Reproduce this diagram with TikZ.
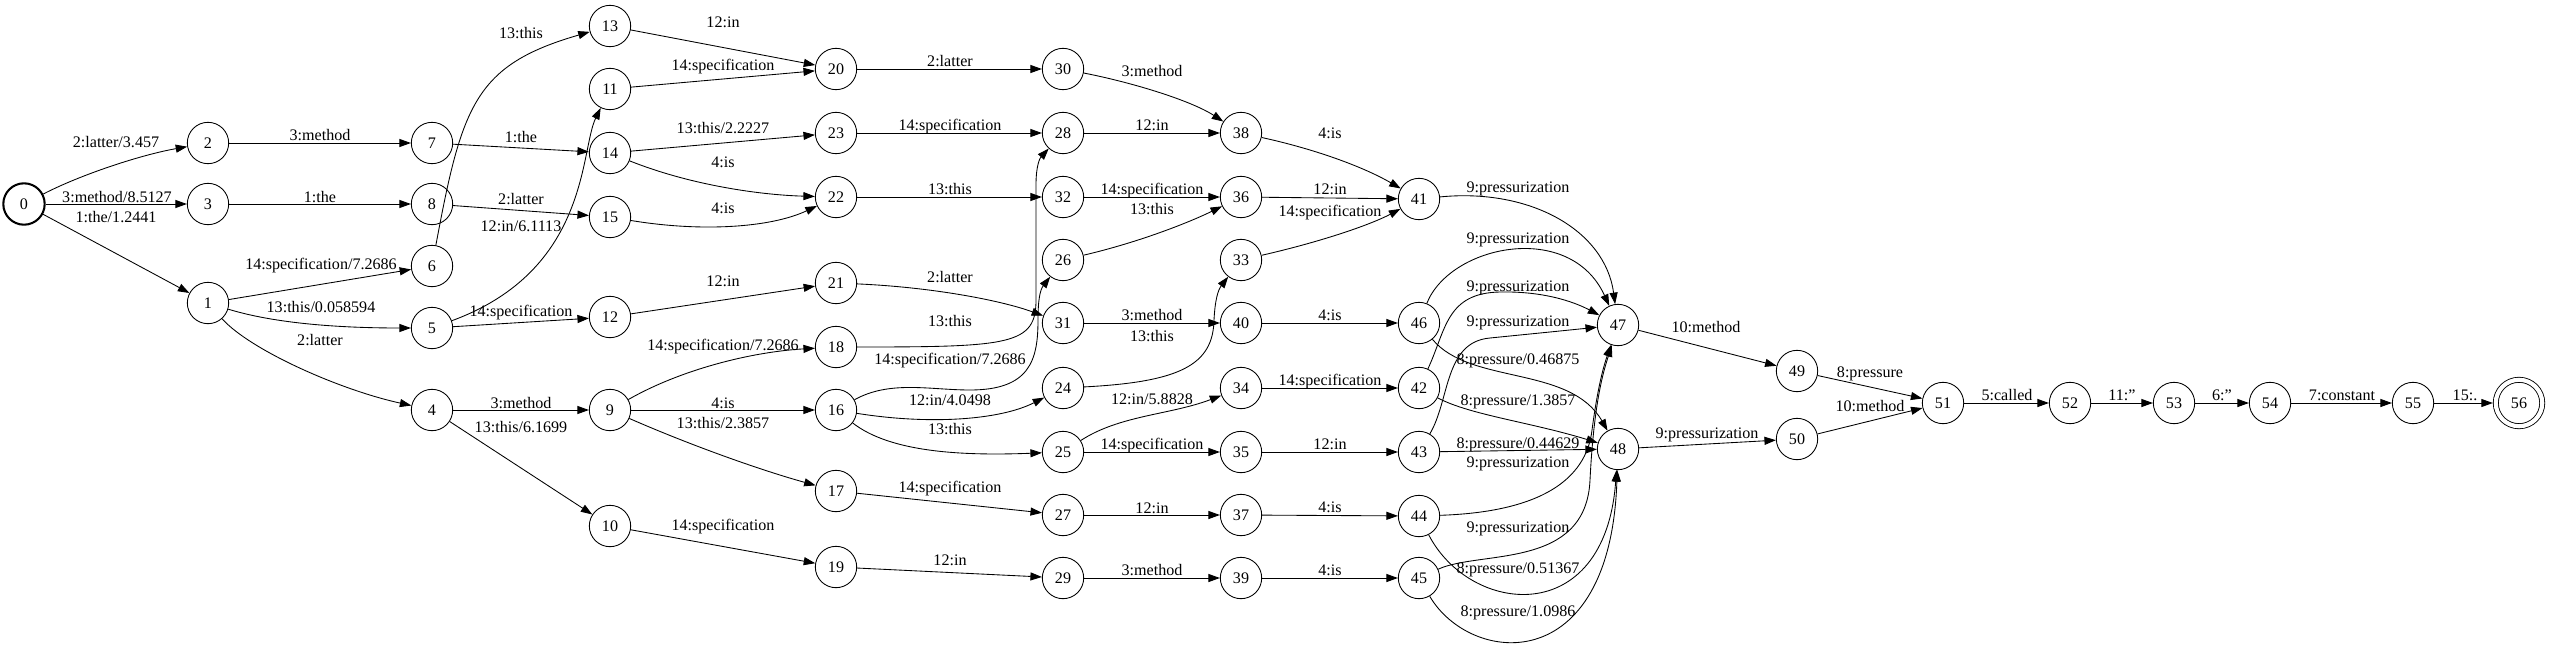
\documentclass[tikz,border=0pt]{standalone}
\usepackage{fontspec}
\setmainfont{Liberation Serif}
\usetikzlibrary{arrows.meta}

\begin{document}
\begin{tikzpicture}[x=0.87pt,y=-0.87pt,
    statenode/.style={circle,draw,line width=0.75pt,minimum size=36pt,inner sep=0pt},
    initstate/.style={statenode,line width=1.8pt},
    finalstate/.style={statenode,double,double distance=3.6pt,minimum size=40.4pt,outer sep=2.6pt},
    fstarc/.style={line width=0.75pt,-{Triangle[length=10pt,width=7pt]}},
    arclabel/.style={inner sep=0pt,text height=10pt,text depth=0pt}]
                \useasboundingbox (0,0) rectangle (2550,645);
                {\fontsize{14pt}{16pt}\selectfont

                % Drawing states, rank by rank
                \node [initstate] (s0) at (24,204) {0};%
                \node [statenode] (s2) at (208,143) {2};%
                \node [statenode] (s3) at (208,204) {3};%
                \node [statenode] (s1) at (208,303) {1};%
                \node [statenode] (s7) at (432,143) {7};%
                \node [statenode] (s8) at (432,204) {8};%
                \node [statenode] (s6) at (432,266) {6};%
                \node [statenode] (s5) at (432,328) {5};%
                \node [statenode] (s4) at (432,410) {4};%
                \node [statenode] (s13) at (610,26) {13};%
                \node [statenode] (s11) at (610,89) {11};%
                \node [statenode] (s14) at (610,153) {14};%
                \node [statenode] (s15) at (610,217) {15};%
                \node [statenode] (s12) at (610,317) {12};%
                \node [statenode] (s9) at (610,410) {9};%
                \node [statenode] (s10) at (610,526) {10};%
                \node [statenode] (s20) at (836,69) {20};%
                \node [statenode] (s23) at (836,133) {23};%
                \node [statenode] (s22) at (836,197) {22};%
                \node [statenode] (s21) at (836,283) {21};%
                \node [statenode] (s18) at (836,347) {18};%
                \node [statenode] (s16) at (836,410) {16};%
                \node [statenode] (s17) at (836,491) {17};%
                \node [statenode] (s19) at (836,567) {19};%
                \node [statenode] (s30) at (1063,69) {30};%
                \node [statenode] (s28) at (1063,133) {28};%
                \node [statenode] (s32) at (1063,197) {32};%
                \node [statenode] (s26) at (1063,260) {26};%
                \node [statenode] (s31) at (1063,323) {31};%
                \node [statenode] (s24) at (1063,388) {24};%
                \node [statenode] (s25) at (1063,452) {25};%
                \node [statenode] (s27) at (1063,515) {27};%
                \node [statenode] (s29) at (1063,578) {29};%
                \node [statenode] (s38) at (1241,133) {38};%
                \node [statenode] (s36) at (1241,197) {36};%
                \node [statenode] (s33) at (1241,260) {33};%
                \node [statenode] (s40) at (1241,323) {40};%
                \node [statenode] (s34) at (1241,388) {34};%
                \node [statenode] (s35) at (1241,452) {35};%
                \node [statenode] (s37) at (1241,515) {37};%
                \node [statenode] (s39) at (1241,578) {39};%
                \node [statenode] (s41) at (1419,199) {41};%
                \node [statenode] (s46) at (1419,323) {46};%
                \node [statenode] (s42) at (1419,388) {42};%
                \node [statenode] (s43) at (1419,452) {43};%
                \node [statenode] (s44) at (1419,516) {44};%
                \node [statenode] (s45) at (1419,578) {45};%
                \node [statenode] (s47) at (1618,325) {47};%
                \node [statenode] (s48) at (1618,449) {48};%
                \node [statenode] (s49) at (1797,371) {49};%
                \node [statenode] (s50) at (1797,439) {50};%
                \node [statenode] (s51) at (1943,403) {51};%
                \node [statenode] (s52) at (2070,403) {52};%
                \node [statenode] (s53) at (2174,403) {53};%
                \node [statenode] (s54) at (2270,403) {54};%
                \node [statenode] (s55) at (2413,403) {55};%
                \node [finalstate] (s56) at (2519,403) {56};%

                % Drawing arcs out of 0, 1, 2, 3
                \draw [fstarc] (s0) .. controls (80,175) and (140,155) .. (s2);%
                \draw [fstarc] (s0) -- (s3);%
                \draw [fstarc] (s0) -- (s1);%
                \draw [fstarc] (s2) -- (s7);%
                \draw [fstarc] (s3) -- (s8);%
                \draw [fstarc] (s1) -- (s6);%
                \draw [fstarc] (s1) .. controls (280,325) and (350,328) .. (s5);%
                \draw [fstarc] (s1) .. controls (250,350) and (340,390) .. (s4);%
                \node [arclabel] (l0x2) at (116,142) {2:latter/3.457};%
                \node [arclabel] (l0x3) at (117,197) {3:method/8.5127};%
                \node [arclabel] (l0x1) at (116,217) {1:the/1.2441};%
                \node [arclabel] (l2x7) at (320,135) {3:method};%
                \node [arclabel] (l3x8) at (320,197) {1:the};%
                \node [arclabel] (l1x6) at (321,264) {14:specification/7.2686};%
                \node [arclabel] (l1x5) at (321,307) {13:this/0.058594};%
                \node [arclabel] (l1x4) at (320,340) {2:latter};%

                % Drawing arcs out of 4 to 8
                \draw [fstarc] (s6) .. controls (462,105) and (475,65) .. (s13);%
                \draw [fstarc] (s5) .. controls (590,270) and (580,150) .. (s11);%
                \draw [fstarc] (s7) -- (s14);%
                \draw [fstarc] (s8) -- (s15);%
                \draw [fstarc] (s5) -- (s12);%
                \draw [fstarc] (s4) -- (s9);%
                \draw [fstarc] (s4) -- (s10);%
                \node [arclabel] (l6x13) at (521,33) {13:this};%
                \node [arclabel] (l7x14) at (521,137) {1:the};%
                \node [arclabel] (l8x15) at (521,199) {2:latter};%
                \node [arclabel] (l5x11) at (521,226) {12:in/6.1113};%
                \node [arclabel] (l5x12) at (521,311) {14:specification};%
                \node [arclabel] (l4x9) at (521,403) {3:method};%
                \node [arclabel] (l4x10) at (521,427) {13:this/6.1699};%

                % Drawing arcs out of 9 to 15
                \draw [fstarc] (s13) -- (s20);%
                \draw [fstarc] (s11) -- (s20);%
                \draw [fstarc] (s14) -- (s23);%
                \draw [fstarc] (s14) .. controls (690,185) and (760,195) .. (s22);%
                \draw [fstarc] (s15) .. controls (700,232) and (770,228) .. (s22);%
                \draw [fstarc] (s12) -- (s21);%
                \draw [fstarc] (s9) .. controls (680,370) and (750,352) .. (s18);%
                \draw [fstarc] (s9) -- (s16);%
                \draw [fstarc] (s9) .. controls (690,445) and (760,470) .. (s17);%
                \draw [fstarc] (s10) -- (s19);%
                \node [arclabel] (l13x20) at (723,22) {12:in};%
                \node [arclabel] (l11x20) at (723,65) {14:specification};%
                \node [arclabel] (l14x23) at (723,128) {13:this/2.2227};%
                \node [arclabel] (l14x22) at (723,162) {4:is};%
                \node [arclabel] (l15x22) at (723,208) {4:is};%
                \node [arclabel] (l12x21) at (723,281) {12:in};%
                \node [arclabel] (l9x18) at (723,345) {14:specification/7.2686};%
                \node [arclabel] (l9x16) at (723,403) {4:is};%
                \node [arclabel] (l9x17) at (723,423) {13:this/2.3857};%
                \node [arclabel] (l10x19) at (723,525) {14:specification};%

                % Drawing arcs out of 16 to 23
                \draw [fstarc] (s20) -- (s30);%
                \draw [fstarc] (s23) -- (s28);%
                \draw [fstarc] (s22) -- (s32);%
                \draw [fstarc] (s21) .. controls (930,287) and (1000,300) .. (s31);%
                \draw [fstarc] (s18) .. controls (1010,347) and (1036,345) .. (1036,300) -- (1036,185) .. controls (1036,165) and (1040,158) .. (s28);%
                \draw [fstarc] (s16) .. controls (890,380) and (930,390) .. (970,390) .. controls (1030,390) and (1038,360) .. (1038,320) .. controls (1038,300) and (1040,290) .. (s26);%
                \draw [fstarc] (s16) .. controls (930,425) and (1000,420) .. (s24);%
                \draw [fstarc] (s16) .. controls (890,452) and (960,456) .. (s25);%
                \draw [fstarc] (s17) -- (s27);%
                \draw [fstarc] (s19) -- (s29);%
                \node [arclabel] (l20x30) at (950,61) {2:latter};%
                \node [arclabel] (l23x28) at (950,125) {14:specification};%
                \node [arclabel] (l22x32) at (950,189) {13:this};%
                \node [arclabel] (l21x31) at (950,277) {2:latter};%
                \node [arclabel] (l18x28) at (950,321) {13:this};%
                \node [arclabel] (l16x26) at (950,359) {14:specification/7.2686};%
                \node [arclabel] (l16x24) at (950,400) {12:in/4.0498};%
                \node [arclabel] (l16x25) at (950,429) {13:this};%
                \node [arclabel] (l17x27) at (950,487) {14:specification};%
                \node [arclabel] (l19x29) at (950,560) {12:in};%

                % Drawing arcs out of 24 to 32
                \draw [fstarc] (s30) .. controls (1130,82) and (1190,100) .. (s38);%
                \draw [fstarc] (s28) -- (s38);%
                \draw [fstarc] (s32) -- (s36);%
                \draw [fstarc] (s26) .. controls (1140,242) and (1190,222) .. (s36);%
                \draw [fstarc] (s31) -- (s40);%
                \draw [fstarc] (s24) .. controls (1180,382) and (1213,365) .. (1214,320) .. controls (1215,300) and (1218,290) .. (s33);%
                \draw [fstarc] (s25) .. controls (1120,415) and (1170,415) .. (s34);%
                \draw [fstarc] (s25) -- (s35);%
                \draw [fstarc] (s27) -- (s37);%
                \draw [fstarc] (s29) -- (s39);%
                \node [arclabel] (l30x38) at (1152,71) {3:method};%
                \node [arclabel] (l28x38) at (1152,125) {12:in};%
                \node [arclabel] (l32x36) at (1152,189) {14:specification};%
                \node [arclabel] (l26x36) at (1152,209) {13:this};%
                \node [arclabel] (l31x40) at (1152,315) {3:method};%
                \node [arclabel] (l24x33) at (1152,336) {13:this};%
                \node [arclabel] (l25x34) at (1152,399) {12:in/5.8828};%
                \node [arclabel] (l25x35) at (1152,444) {14:specification};%
                \node [arclabel] (l27x37) at (1152,508) {12:in};%
                \node [arclabel] (l29x39) at (1152,570) {3:method};%

                % Drawing arcs out of 33 to 40
                \draw [fstarc] (s38) .. controls (1310,148) and (1360,165) .. (s41);%
                \draw [fstarc] (s36) -- (s41);%
                \draw [fstarc] (s33) .. controls (1320,242) and (1370,225) .. (s41);%
                \draw [fstarc] (s40) -- (s46);%
                \draw [fstarc] (s34) -- (s42);%
                \draw [fstarc] (s35) -- (s43);%
                \draw [fstarc] (s37) -- (s44);%
                \draw [fstarc] (s39) -- (s45);%
                \node [arclabel] (l38x41) at (1330,133) {4:is};%
                \node [arclabel] (l36x41) at (1330,189) {12:in};%
                \node [arclabel] (l33x41) at (1330,211) {14:specification};%
                \node [arclabel] (l40x46) at (1330,315) {4:is};%
                \node [arclabel] (l34x42) at (1330,380) {14:specification};%
                \node [arclabel] (l35x43) at (1330,444) {12:in};%
                \node [arclabel] (l37x44) at (1330,507) {4:is};%
                \node [arclabel] (l39x45) at (1330,570) {4:is};%

                % Drawing arcs into 47 and 48
                \draw [fstarc] (s41) .. controls (1530,188) and (1605,230) .. (s47);%
                \draw [fstarc] (s46) .. controls (1450,245) and (1570,220) .. (s47);%
                \draw [fstarc] (s42) .. controls (1446,330) and (1446,293) .. (1500,292) .. controls (1550,291) and (1580,305) .. (s47);%
                \draw [fstarc] (s43) .. controls (1450,400) and (1444,342) .. (1490,338) .. controls (1530,334) and (1570,330) .. (s47);%
                \draw [fstarc] (s44) .. controls (1540,512) and (1586,480) .. (1592,430) .. controls (1598,385) and (1604,365) .. (s47);%
                \draw [fstarc] (s45) .. controls (1480,550) and (1586,570) .. (1590,480) .. controls (1594,400) and (1604,370) .. (s47);%
                \draw [fstarc] (s46) .. controls (1470,385) and (1570,365) .. (s48);%
                \draw [fstarc] (s42) .. controls (1470,415) and (1530,422) .. (s48);%
                \draw [fstarc] (s43) -- (s48);%
                \draw [fstarc] (s44) .. controls (1470,615) and (1605,630) .. (s48);%
                \draw [fstarc] (s45) .. controls (1470,665) and (1610,680) .. (s48);%
                \node [arclabel] (l41x47) at (1518,187) {9:pressurization};%
                \node [arclabel] (l46x47) at (1518,238) {9:pressurization};%
                \node [arclabel] (l42x47) at (1518,286) {9:pressurization};%
                \node [arclabel] (l43x47) at (1518,321) {9:pressurization};%
                \node [arclabel] (l46x48) at (1518,359) {8:pressure/0.46875};%
                \node [arclabel] (l42x48) at (1518,400) {8:pressure/1.3857};%
                \node [arclabel] (l43x48) at (1518,443) {8:pressure/0.44629};%
                \node [arclabel] (l44x47) at (1518,462) {9:pressurization};%
                \node [arclabel] (l45x47) at (1518,527) {9:pressurization};%
                \node [arclabel] (l44x48) at (1518,568) {8:pressure/0.51367};%
                \node [arclabel] (l45x48) at (1518,611) {8:pressure/1.0986};%

                % Drawing the tail 47 ... 56
                \draw [fstarc] (s47) -- (s49);%
                \draw [fstarc] (s48) -- (s50);%
                \draw [fstarc] (s49) -- (s51);%
                \draw [fstarc] (s50) -- (s51);%
                \draw [fstarc] (s51) -- (s52);%
                \draw [fstarc] (s52) -- (s53);%
                \draw [fstarc] (s53) -- (s54);%
                \draw [fstarc] (s54) -- (s55);%
                \draw [fstarc] (s55) -- (s56);%
                \node [arclabel] (l47x49) at (1706,327) {10:method};%
                \node [arclabel] (l48x50) at (1707,433) {9:pressurization};%
                \node [arclabel] (l49x51) at (1870,372) {8:pressure};%
                \node [arclabel] (l50x51) at (1870,406) {10:method};%
                \node [arclabel] (l51x52) at (2007,395) {5:called};%
                \node [arclabel] (l52x53) at (2122,395) {11:"};%
                \node [arclabel] (l53x54) at (2222,395) {6:"};%
                \node [arclabel] (l54x55) at (2342,395) {7:constant};%
                \node [arclabel] (l55x56) at (2465,395) {15:.};%
                }
\end{tikzpicture}
\end{document}
